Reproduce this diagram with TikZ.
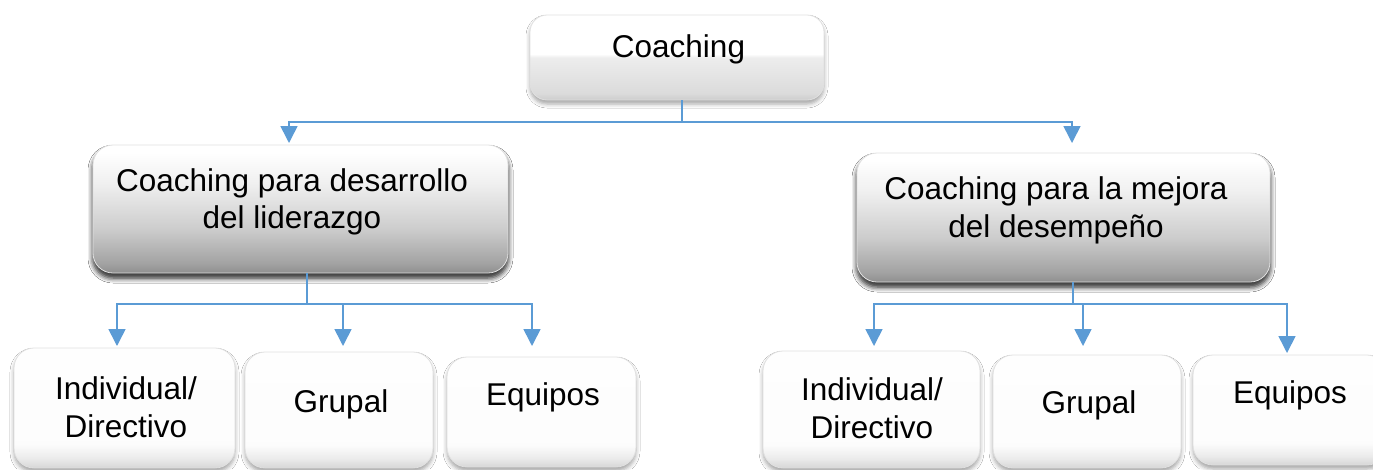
\documentclass[tikz,border=0pt]{standalone}
\usepackage{fontspec}
\setmainfont{Liberation Sans}
\usetikzlibrary{arrows.meta,shadows.blur}

% vertical shadings, positions from bottom (25bp) to top (75bp) of the box
\pgfdeclareverticalshading{coachshade}{100bp}{
  rgb(0bp)=(0.80,0.80,0.80); rgb(25bp)=(0.80,0.80,0.80);
  rgb(29bp)=(0.86,0.86,0.86); rgb(50bp)=(0.93,0.93,0.93);
  rgb(52bp)=(1,1,1); rgb(100bp)=(1,1,1)}
\pgfdeclareverticalshading{midshade}{100bp}{
  rgb(0bp)=(0.56,0.56,0.56); rgb(25bp)=(0.56,0.56,0.56);
  rgb(29bp)=(0.64,0.64,0.64); rgb(42bp)=(0.80,0.80,0.80);
  rgb(60bp)=(0.94,0.94,0.94); rgb(72bp)=(1,1,1); rgb(100bp)=(1,1,1)}
\pgfdeclareverticalshading{leafshade}{100bp}{
  rgb(0bp)=(0.84,0.84,0.84); rgb(25bp)=(0.84,0.84,0.84);
  rgb(29bp)=(0.92,0.92,0.92); rgb(35bp)=(0.99,0.99,0.99);
  rgb(100bp)=(1,1,1)}

\definecolor{wireblue}{HTML}{5B9BD5}

\tikzset{
  box/.style={rectangle, inner sep=0pt, draw=black!12, line width=0.8pt,
    blur shadow={shadow xshift=0pt, shadow yshift=-4pt,
                 shadow blur radius=4pt, shadow opacity=35}},
  topbox/.style={box, rounded corners=17pt, shading=coachshade},
  midbox/.style={box, rounded corners=20pt, shading=midshade,
    blur shadow={shadow xshift=0pt, shadow yshift=-5pt,
                 shadow blur radius=5pt, shadow opacity=55}},
  leafbox/.style={box, rounded corners=20pt, shading=leafshade},
  label/.style={font=\fontsize{31.5}{37.5}\selectfont, text=black, inner sep=0pt, align=center},
  wire/.style={draw=wireblue, line width=1.6pt},
  feed/.style={wire, -{Triangle[width=17pt,length=17pt]}}
}

\begin{document}
\begin{tikzpicture}[x=1pt, y=-1pt]
  \clip (0,0) rectangle (1373,469);
  \fill[white] (0,0) rectangle (1373,469);

  % boxes
  \node[topbox,  minimum width=294, minimum height=85]  (coach) at (677,57.5) {};
  \node[midbox,  minimum width=415, minimum height=128] (ml)    at (300.5,209) {};
  \node[midbox,  minimum width=413, minimum height=129] (mr)    at (1063.5,217.5) {};
  \node[leafbox, minimum width=221, minimum height=120] (l1)    at (124.5,408) {};
  \node[leafbox, minimum width=188, minimum height=116] (l2)    at (339,410) {};
  \node[leafbox, minimum width=189, minimum height=110] (l3)    at (541.5,412) {};
  \node[leafbox, minimum width=217, minimum height=117] (r1)    at (871.5,409.5) {};
  \node[leafbox, minimum width=188, minimum height=113] (r2)    at (1087,411.5) {};
  \node[leafbox, minimum width=194, minimum height=110] (r3)    at (1290,410) {};

  % texts
  \node[label, anchor=base] (coach-t) at (678.5,57) {Coaching};
  \node[label] (ml-t) at (292,202) {Coaching para desarrollo\\del liderazgo};
  \node[label] (mr-t) at (1056,210.5) {Coaching para la mejora\\del desempeño};
  \node[label] (l1-t) at (126,407) {Individual/\\Directivo};
  \node[label, anchor=base] (l2-t) at (341,412) {Grupal};
  \node[label, anchor=base] (l3-t) at (543,405) {Equipos};
  \node[label] (r1-t) at (872,408) {Individual/\\Directivo};
  \node[label, anchor=base] (r2-t) at (1089,413) {Grupal};
  \node[label, anchor=base] (r3-t) at (1290,403) {Equipos};

  % bus points and arrow tips
  \coordinate (busTop) at (682,122);
  \coordinate (tipML)  at (289,143);
  \coordinate (tipMR)  at (1072,143);
  \coordinate (busL)   at (307,304);
  \coordinate (tipL1)  at (117,346);
  \coordinate (tipL2)  at (343,346);
  \coordinate (tipL3)  at (532,346);
  \coordinate (busR)   at (1073,304);
  \coordinate (tipR1)  at (874,346);
  \coordinate (tipR2)  at (1083,346);
  \coordinate (tipR3)  at (1287,353);

  % connectors
  \draw[wire] (coach.south -| busTop) -- (busTop);
  \draw[feed] (busTop) -| (tipML);
  \draw[feed] (busTop) -| (tipMR);

  \draw[wire] (ml.south -| busL) -- (busL);
  \draw[feed] (busL) -| (tipL1);
  \draw[feed] (busL) -| (tipL2);
  \draw[feed] (busL) -| (tipL3);

  \draw[wire] (mr.south -| busR) -- (busR);
  \draw[feed] (busR) -| (tipR1);
  \draw[feed] (busR) -| (tipR2);
  \draw[feed] (busR) -| (tipR3);
\end{tikzpicture}
\end{document}
